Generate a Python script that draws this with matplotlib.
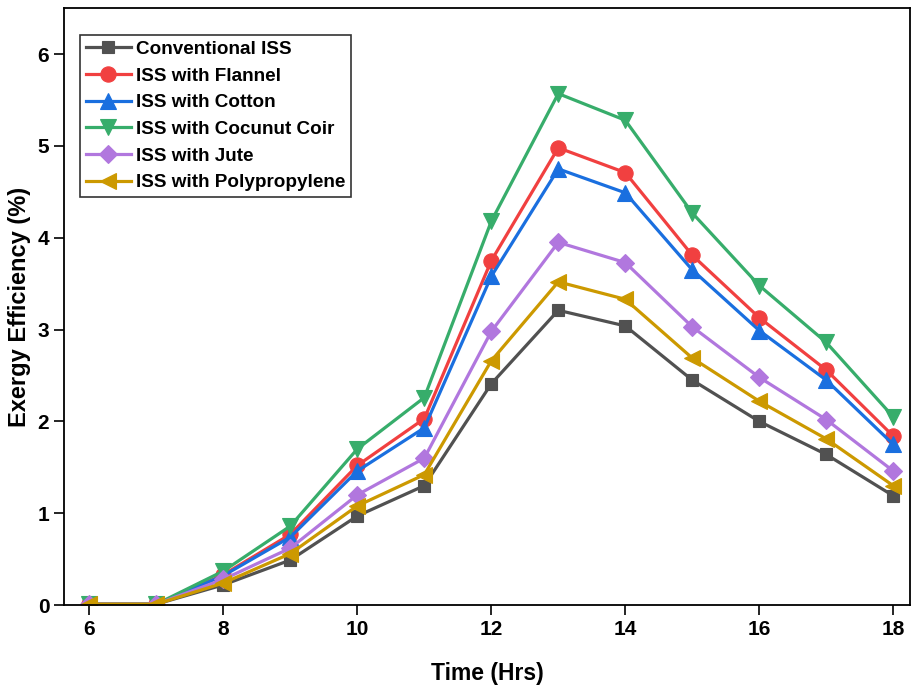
import matplotlib
matplotlib.use("Agg")
import matplotlib.pyplot as plt

hours = [6, 7, 8, 9, 10, 11, 12, 13, 14, 15, 16, 17, 18]
conventional = [0.01, 0.01, 0.22, 0.49, 0.97, 1.30, 2.41, 3.21, 3.04, 2.45, 2.00, 1.64, 1.19]
flannel      = [0.01, 0.01, 0.33, 0.77, 1.52, 2.03, 3.75, 4.98, 4.71, 3.81, 3.13, 2.56, 1.84]
cotton       = [0.01, 0.01, 0.32, 0.74, 1.46, 1.93, 3.58, 4.75, 4.49, 3.65, 2.99, 2.45, 1.75]
coir         = [0.01, 0.01, 0.37, 0.86, 1.70, 2.26, 4.18, 5.57, 5.28, 4.27, 3.48, 2.86, 2.05]
jute         = [0.01, 0.01, 0.28, 0.62, 1.20, 1.60, 2.98, 3.95, 3.73, 3.03, 2.48, 2.02, 1.46]
polyprop     = [0.01, 0.01, 0.24, 0.56, 1.08, 1.42, 2.66, 3.52, 3.33, 2.69, 2.22, 1.81, 1.30]

labels = ["Conventional ISS", "ISS with Flannel", "ISS with Cotton",
          "ISS with Cocunut Coir", "ISS with Jute", "ISS with Polypropylene"]
series = [conventional, flannel, cotton, coir, jute, polyprop]
colors = ["#515151", "#F14040", "#1A6FDF", "#37AD6B", "#B177DE", "#CC9900"]
markers = ["s", "o", "^", "v", "D", "<"]
msizes = [9, 11, 11, 11, 9, 11]

x_ticks = [6, 8, 10, 12, 14, 16, 18]
y_ticks = [0, 1, 2, 3, 4, 5, 6]

plt.rcParams['font.family'] = ['Liberation Sans', 'DejaVu Sans']
plt.rcParams['font.weight'] = 'bold'

fig = plt.figure(figsize=(9.13, 6.86), dpi=100)
ax = fig.add_axes([0.070, 0.118, 0.9267, 0.870])

for vals, lab, c, m, ms in zip(series, labels, colors, markers, msizes):
    ax.plot(hours, vals, color=c, marker=m, markersize=ms, linewidth=2.3,
            label=lab, markeredgecolor=c, markeredgewidth=0.8)

ax.set_xlim(5.62, 18.25)
ax.set_ylim(0, 6.5)
ax.set_xticks(x_ticks)
ax.set_yticks(y_ticks)
ax.tick_params(axis='both', direction='out', length=7, width=1.2, labelsize=15)
for lbl in ax.get_xticklabels() + ax.get_yticklabels():
    lbl.set_fontweight('bold')
for sp in ax.spines.values():
    sp.set_linewidth(1.3)

ax.set_xlabel("Time (Hrs)", fontsize=16.5, fontweight='bold', labelpad=17)
ax.set_ylabel("Exergy Efficiency (%)", fontsize=17, fontweight='bold', labelpad=5)

leg = ax.legend(loc='upper left', bbox_to_anchor=(0.019, 0.955), fontsize=13.6,
                frameon=True, fancybox=False, edgecolor='black',
                labelspacing=0.5, handlelength=2.4, handletextpad=0.27,
                borderpad=0.3, borderaxespad=0.0)
leg.get_frame().set_linewidth(1.2)
for t in leg.get_texts():
    t.set_fontweight('bold')

fig.savefig("out.png", dpi=100)
